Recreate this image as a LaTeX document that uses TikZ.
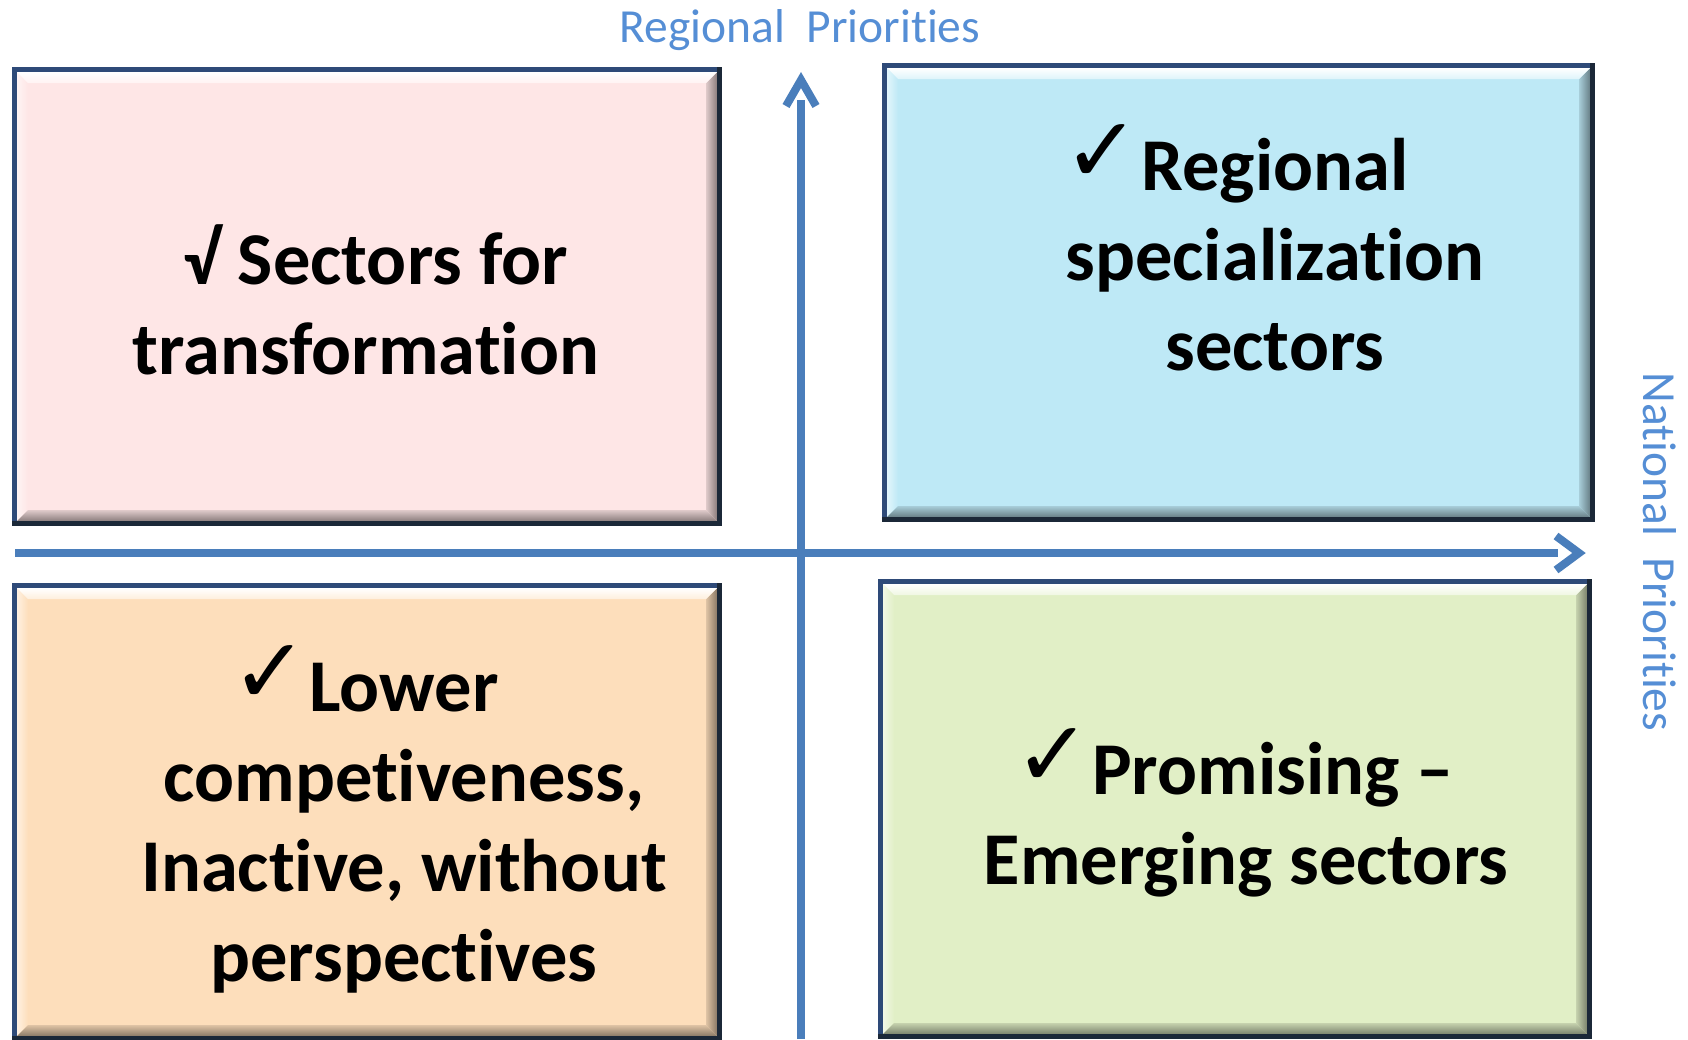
\documentclass[tikz,border=0pt]{standalone}
\usepackage{fontspec}
\setmainfont{Carlito}[Ligatures=NoCommon]
\newfontfamily\dejavu{DejaVu Sans}
\usetikzlibrary{calc}
\definecolor{navy}{HTML}{2E4A78}
\definecolor{navyd}{HTML}{1B2838}
\definecolor{axisblue}{HTML}{4A7EBB}
\definecolor{lblblue}{HTML}{558ED5}
\definecolor{cpink}{HTML}{FEE6E6}
\definecolor{cblue}{HTML}{BEE9F6}
\definecolor{corange}{HTML}{FDDEBB}
\definecolor{cgreen}{HTML}{E1EFC6}

\newcommand\chk{\llap{\raisebox{8pt}{\bfseries\dejavu\fontsize{92}{92}\selectfont ✓}\hspace{1pt}}}

\tikzset{
  qb/.style={draw=navy, line width=5pt, inner sep=0pt, outer sep=0pt, rectangle},
  boxtext/.style={font=\bfseries\fontsize{74.5}{90}\selectfont, align=center, inner sep=0pt},
  axisline/.style={draw=axisblue, line width=8pt},
  chev/.style={draw=axisblue, line width=8pt, line join=miter},
  lbl/.style={text=lblblue, font=\fontsize{47.5}{50}\selectfont, inner sep=0pt}
}

\newcommand\qbox[6]{%
  \node[qb, fill=#6, minimum width={#4-#2-5}, minimum height={#5-#3-5}] (#1) at ({(#2+#4)/2},{(#3+#5)/2}) {};
  \shade[left color=#6!45!white, right color=#6] (#2+5,#3+5) -- (#2+16,#3+16) -- (#2+16,#5-16) -- (#2+5,#5-5) -- cycle;
  \shade[left color=#6!88!black, right color=#6!55!black] (#4-5,#3+5) -- (#4-5,#5-5) -- (#4-16,#5-16) -- (#4-16,#3+16) -- cycle;
  \shade[top color=#6!88!black, bottom color=#6!55!black] (#2+5,#5-5) -- (#4-5,#5-5) -- (#4-16,#5-16) -- (#2+16,#5-16) -- cycle;
  \shade[top color=white, bottom color=#6!50!white] (#2+5,#3+5) -- (#4-5,#3+5) -- (#4-16,#3+16) -- (#2+16,#3+16) -- cycle;
  \draw[navyd, line width=5pt] (#2,#5-2.5) -- (#4-2.5,#5-2.5) -- (#4-2.5,#3);
}

\begin{document}
\begin{tikzpicture}[x=1pt,y=-1pt]
\useasboundingbox (0,0) rectangle (1688,1039);

\qbox{tl}{12}{67}{722}{526}{cpink}
\qbox{tr}{882}{63}{1595}{522}{cblue}
\qbox{bl}{12}{583}{722}{1041}{corange}
\qbox{br}{878}{579}{1592}{1039}{cgreen}

\node[boxtext] (tlt) at (366,300) {\hspace*{20pt}√ Sectors for\\transformation};
\node[boxtext] (trt) at (1275,248) {\chk Regional\\specialization\\sectors};
\node[boxtext] (blt) at (404,819) {\chk Lower\\competiveness,\\Inactive, without\\perspectives};
\node[boxtext] (brt) at (1246,813) {\hspace*{54pt}\chk Promising –\\Emerging sectors};

% axes
\coordinate (hl) at (15,553);
\coordinate (hr) at (1558,553);
\coordinate (vb) at (801,1039);
\coordinate (vt) at (801,100);
\draw[axisline] (hl) -- (hr);
\draw[axisline] (vb) -- (vt);
\draw[chev] (786,106) -- (801,80) -- (816,106);
\draw[chev] (1556,536) -- (1579,553) -- (1556,570);

\node[lbl, anchor=base] (rp) at (800,42) {Regional\ \ Priorities};
\node[lbl, anchor=base, rotate=-90] (np) at (1643,552) {National\ \ Priorities};
\end{tikzpicture}
\end{document}
